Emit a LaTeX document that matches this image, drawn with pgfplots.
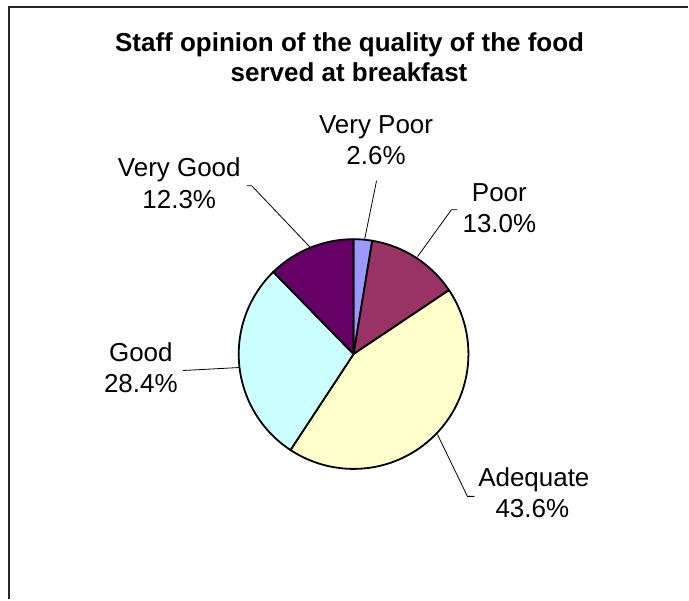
\documentclass[border=0pt]{standalone}
\usepackage{pgfplots}
\pgfplotsset{compat=1.18}
\usepackage{pgfplotstable}
\usepackage{fontspec}
\setmainfont{Liberation Sans}
\definecolor{cVP}{RGB}{153,153,255}
\definecolor{cP}{RGB}{153,51,102}
\definecolor{cA}{RGB}{255,255,204}
\definecolor{cG}{RGB}{204,255,255}
\definecolor{cVG}{RGB}{102,0,102}
\tikzset{
  lbl/.style={anchor=base, inner sep=0pt, font=\fontsize{26bp}{31bp}\selectfont},
  ttl/.style={anchor=base, inner sep=0pt, font=\fontsize{26bp}{31bp}\selectfont\bfseries},
}
\pgfplotstableread[col sep=comma]{
label,value,color
Very Poor,2.6,cVP
Poor,13.0,cP
Adequate,43.6,cA
Good,28.4,cG
Very Good,12.3,cVG
}\piedata
\begin{document}
\begin{tikzpicture}
% cumulative angles (clockwise from 12 o'clock)
\def\total{0}
\pgfplotsforeachungrouped \i in {0,...,4}{%
  \pgfplotstablegetelem{\i}{value}\of\piedata
  \pgfmathsetmacro\total{\total+\pgfplotsretval}%
}
\pgfmathsetmacro\degper{360/\total}
\def\cum{0}
\pgfplotsforeachungrouped \i in {0,...,4}{%
  \pgfplotstablegetelem{\i}{value}\of\piedata
  \pgfmathsetmacro\sA{90-\degper*\cum}%
  \pgfmathsetmacro\cum{\cum+\pgfplotsretval}%
  \pgfmathsetmacro\eA{90-\degper*\cum}%
  \pgfplotstablegetelem{\i}{color}\of\piedata
  \expandafter\xdef\csname pieS\i\endcsname{\sA}%
  \expandafter\xdef\csname pieE\i\endcsname{\eA}%
  \expandafter\xdef\csname pieC\i\endcsname{\pgfplotsretval}%
}
\begin{axis}[
  width=689bp, height=600bp, scale only axis,
  xmin=0, xmax=689, ymin=0, ymax=600,
  hide axis, clip=false,
]
\path (axis cs:0,0) rectangle (axis cs:689,600);
% frame
\draw[line width=1.7bp, color=black!85] (axis cs:9,0) -- (axis cs:9,593) -- (axis cs:689,593);
% title
\node[ttl] at (axis cs:350,548) {Staff opinion of the quality of the food};
\node[ttl] at (axis cs:349.5,518) {served at breakfast};
% slices
\pgfplotsinvokeforeach{0,...,4}{%
  \edef\tmp{\noexpand\filldraw[fill=\csname pieC#1\endcsname, draw=black, line width=1.8bp, line join=round]
    (axis cs:354,245.5) -- ++(\csname pieS#1\endcsname:115bp)
    arc[start angle=\csname pieS#1\endcsname, end angle=\csname pieE#1\endcsname, radius=115bp] -- cycle;}%
  \tmp
}
% leader lines
\draw[line width=0.8bp] (axis cs:377,419) -- (axis cs:365,360);
\draw[line width=0.8bp] (axis cs:458,390) -- (axis cs:452,390) -- (axis cs:418,343);
\draw[line width=0.8bp] (axis cs:247,414) -- (axis cs:252,414) -- (axis cs:310,353);
\draw[line width=0.8bp] (axis cs:183,229) -- (axis cs:239,232);
\draw[line width=0.8bp] (axis cs:438,165) -- (axis cs:468,103) -- (axis cs:475,103);
% labels
\node[lbl] at (axis cs:376.5,466) {Very Poor};
\node[lbl] at (axis cs:376.5,435) {2.6\%};
\node[lbl] at (axis cs:500,398) {Poor};
\node[lbl] at (axis cs:500,367) {13.0\%};
\node[lbl] at (axis cs:179.5,423) {Very Good};
\node[lbl] at (axis cs:179.5,391) {12.3\%};
\node[lbl] at (axis cs:141,238) {Good};
\node[lbl] at (axis cs:141,207) {28.4\%};
\node[lbl] at (axis cs:534.5,113) {Adequate};
\node[lbl] at (axis cs:533,82) {43.6\%};
\end{axis}
\end{tikzpicture}
\end{document}
